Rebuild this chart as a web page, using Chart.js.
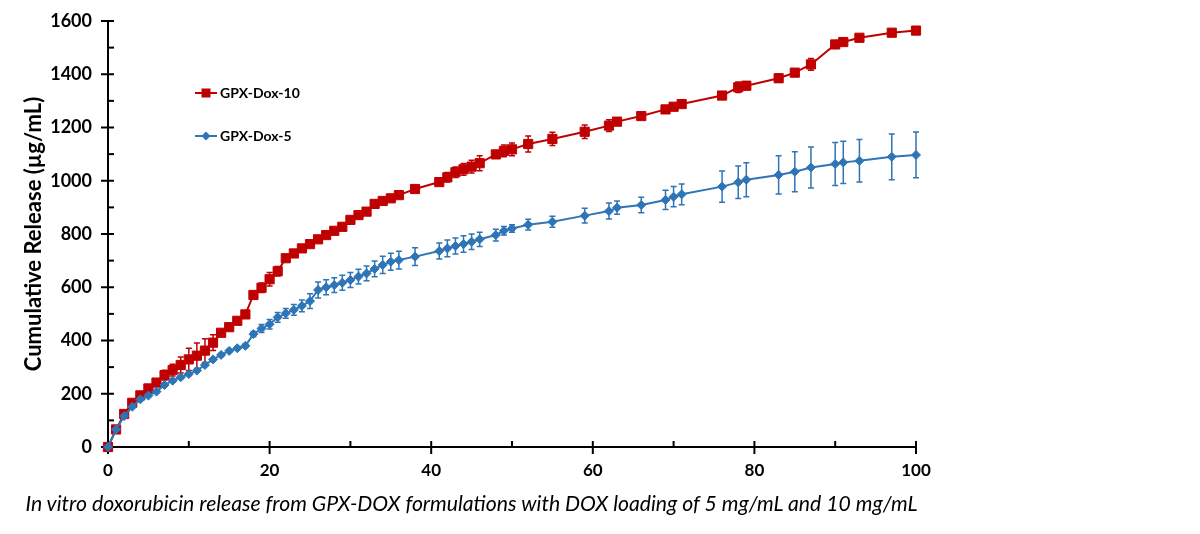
<!DOCTYPE html>
<html>
<head>
<meta charset="utf-8">
<script src="https://cdn.jsdelivr.net/npm/chart.js@4.4.1/dist/chart.umd.min.js"></script>
<style>
html,body{margin:0;padding:0;background:#fff;}
#wrap{position:relative;width:1200px;height:534px;overflow:hidden;}
#c{position:absolute;left:0;top:0;}
.leg{position:absolute;font:bold 14px Lato,"Open Sans",sans-serif;color:#000;display:flex;align-items:center;white-space:nowrap;}
.leg svg{margin-right:3px;}
#caption{position:absolute;top:490px;left:0;white-space:nowrap;font:italic 18px Lato,"Open Sans",sans-serif;color:#000;}
</style>
</head>
<body>
<div id="wrap">
<canvas id="c" width="1200" height="534"></canvas>
<div class="leg" id="leg10" style="left:195px;top:84px;">
<svg width="22" height="12"><line x1="0" y1="6" x2="22" y2="6" stroke="#C00000" stroke-width="2"/><rect x="6.5" y="1.5" width="9" height="9" fill="#C00000"/></svg>GPX-Dox-10</div>
<div class="leg" id="leg5" style="left:195px;top:127px;">
<svg width="22" height="12"><line x1="0" y1="6" x2="22" y2="6" stroke="#2E75B6" stroke-width="2"/><polygon points="11,1.5 15.5,6 11,10.5 6.5,6" fill="#2E75B6"/></svg>GPX-Dox-5</div>
<div id="caption">In vitro doxorubicin release from GPX-DOX formulations with DOX loading of 5 mg/mL and 10 mg/mL</div>
</div>
<script>
// ---- data ----
const times = [0,1,2,3,4,5,6,7,8,9,10,11,12,13,14,15,16,17,18,19,20,21,22,23,24,25,26,27,28,29,30,31,32,33,34,35,36,38,41,42,43,44,45,46,48,49,50,52,55,59,62,63,66,69,70,71,76,78,79,83,85,87,90,91,93,97,100];
const dox10 = [0,66,124,166,194,220,242,270,289,308,329,343,362,392,429,450,474,498,571,598,630,660,709,727,746,762,780,796,812,827,853,871,884,913,924,934,946,969,995,1013,1032,1043,1053,1066,1099,1112,1118,1138,1157,1184,1207,1222,1243,1268,1278,1288,1320,1351,1357,1385,1406,1437,1512,1521,1537,1556,1564];
const dox10Err = [0,4,5,6,8,12,10,18,22,30,42,48,45,30,6,6,8,12,15,18,25,18,8,5,5,5,5,5,5,5,5,5,5,5,5,8,8,12,10,18,20,22,24,28,10,22,24,30,25,25,22,10,8,10,10,8,10,20,15,15,12,22,8,8,8,6,6];
const dox5 = [0,66,116,151,179,193,208,233,249,262,274,287,308,329,346,361,371,380,424,445,461,487,502,515,530,548,590,600,608,617,627,640,652,669,684,696,702,715,736,746,755,762,771,780,796,812,821,835,846,869,886,899,909,928,940,949,978,994,1004,1022,1034,1050,1063,1069,1075,1090,1097];
const dox5Err = [0,3,4,4,4,4,4,5,5,5,5,5,5,5,5,5,5,6,10,15,18,18,18,20,22,28,30,28,28,28,28,28,28,30,32,32,33,33,30,31,30,31,29,27,22,16,14,20,21,28,30,25,29,36,38,39,59,61,64,72,75,77,81,79,80,86,86];
const xTickStep = 20, yTickStep = 200;
const xMax = 100, yMax = 1600;

const RED = '#C00000', BLUE = '#2E75B6';

const axisTicks = {
  id: 'axisTicks',
  beforeDatasetsDraw(chart) {
    const {ctx, chartArea: {left, bottom}, scales: {x, y}} = chart;
    ctx.save();
    ctx.strokeStyle = '#000';
    ctx.lineWidth = 2;
    const line = (x1, y1, x2, y2) => { ctx.beginPath(); ctx.moveTo(x1, y1); ctx.lineTo(x2, y2); ctx.stroke(); };
    y.ticks.forEach((t, i) => {
      const py = y.getPixelForValue(t.value);
      line(left - 7, py, left + 6, py);
      if (i < y.ticks.length - 1) {
        const pm = y.getPixelForValue((t.value + y.ticks[i + 1].value) / 2);
        line(left, pm, left + 6, pm);
      }
    });
    x.ticks.forEach((t, i) => {
      const px = x.getPixelForValue(t.value);
      line(px, bottom - 6, px, bottom + 7);
      if (i < x.ticks.length - 1) {
        const pm = x.getPixelForValue((t.value + x.ticks[i + 1].value) / 2);
        line(pm, bottom - 6, pm, bottom);
      }
    });
    ctx.restore();
  }
};

const errorBars = {
  id: 'errorBars',
  beforeDatasetsDraw(chart) {
    const {ctx, scales: {x, y}} = chart;
    chart.data.datasets.forEach(ds => {
      ctx.save();
      ctx.strokeStyle = ds.borderColor;
      ctx.lineWidth = 1.5;
      ds.data.forEach((p, i) => {
        const e = ds.errors[i];
        if (!e) return;
        const px = x.getPixelForValue(p.x);
        const top = y.getPixelForValue(p.y + e);
        const bot = y.getPixelForValue(p.y - e);
        ctx.beginPath();
        ctx.moveTo(px, top); ctx.lineTo(px, bot);
        ctx.moveTo(px - 3, top); ctx.lineTo(px + 3, top);
        ctx.moveTo(px - 3, bot); ctx.lineTo(px + 3, bot);
        ctx.stroke();
      });
      ctx.restore();
    });
  }
};

const mk = (vals) => times.map((t, i) => ({x: t, y: vals[i]}));

new Chart(document.getElementById('c'), {
  type: 'line',
  data: {
    datasets: [
      {label: 'GPX-Dox-5', data: mk(dox5), errors: dox5Err, borderColor: BLUE, backgroundColor: BLUE,
       borderWidth: 2, pointStyle: 'rectRot', pointRadius: 4.5, pointBorderWidth: 1, tension: 0, clip: false},
      {label: 'GPX-Dox-10', data: mk(dox10), errors: dox10Err, borderColor: RED, backgroundColor: RED,
       borderWidth: 2, pointStyle: 'rect', pointRadius: 6.5, pointBorderWidth: 1, tension: 0, clip: false}
    ]
  },
  options: {
    responsive: false,
    animation: false,
    devicePixelRatio: 1,
    layout: {padding: {top: 21, right: 284, left: 0, bottom: 0}},
    plugins: {legend: {display: false}, tooltip: {enabled: false}},
    scales: {
      x: {
        type: 'linear', min: 0, max: xMax,
        ticks: {stepSize: xTickStep, color: '#000', font: {family: 'Lato', weight: 'bold', size: 17}, padding: 13, maxRotation: 0,
                callback: v => String(v)},
        grid: {display: false, drawTicks: false},
        border: {display: true, color: '#000', width: 2},
        afterFit(s) { s.height = 87; s.paddingTop = 0; s.paddingBottom = 0; }
      },
      y: {
        type: 'linear', min: 0, max: yMax,
        ticks: {stepSize: yTickStep, color: '#000', font: {family: 'Lato', weight: 'bold', size: 18}, padding: 16,
                callback: v => String(v)},
        grid: {display: false, drawTicks: false},
        border: {display: true, color: '#000', width: 2},
        title: {display: true, text: 'Cumulative Release (µg/mL)', color: '#000',
                font: {family: 'Lato', weight: 'bold', size: 22}, padding: {top: 21, bottom: 0}},
        afterFit(s) { s.width = 108; s.paddingTop = 0; s.paddingBottom = 0; }
      }
    }
  },
  plugins: [axisTicks, errorBars]
});

// fit caption to reference width and center it
const cap = document.getElementById('caption');
const targetW = 893;
const w = cap.getBoundingClientRect().width;
cap.style.fontSize = (18 * targetW / w).toFixed(2) + 'px';
const w2 = cap.getBoundingClientRect().width;
cap.style.left = (471.5 - w2 / 2).toFixed(1) + 'px';
</script>
</body>
</html>
